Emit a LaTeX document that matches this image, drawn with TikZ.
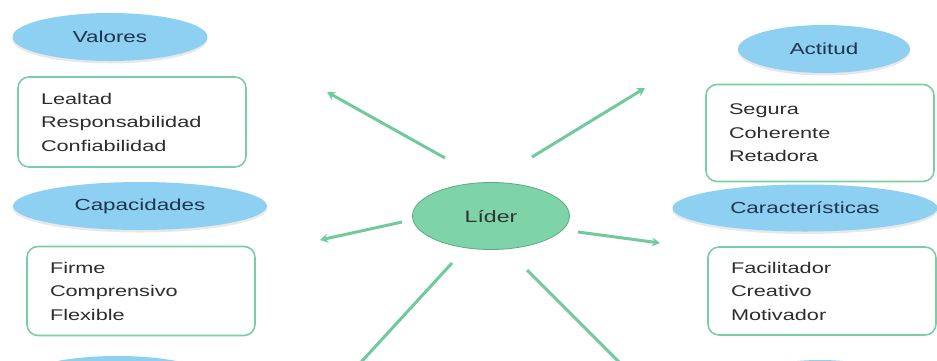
\documentclass[tikz,border=0pt]{standalone}
\usepackage{fontspec}
\setmainfont{Liberation Sans}[FakeStretch=1.4]
\usetikzlibrary{arrows.meta,shapes.geometric,shadows}
\definecolor{tagblue}   {RGB}{142,208,242}
\definecolor{boxgreen}  {RGB}{122,206,164}
\definecolor{liderfill} {RGB}{126,211,168}
\definecolor{liderline} {RGB}{ 92,170,128}
\definecolor{arrowgreen}{RGB}{112,202,158}
\definecolor{tagtext}   {RGB}{ 30, 52, 80}
\definecolor{listtext}  {RGB}{ 45, 45, 45}

\begin{document}
\begin{tikzpicture}[
  x=1pt, y=-1pt,
  every node/.style={inner sep=0pt},
  tag/.style={ellipse, fill=tagblue, text=tagtext, font=\fontsize{16}{19}\selectfont,
    drop shadow={shadow xshift=0pt, shadow yshift=-2.5pt, opacity=0.18}},
  listbox/.style={draw=boxgreen, line width=1.6pt, rounded corners=11pt, fill=white,
    align=left, text=listtext, font=\fontsize{15.5}{23.5}\selectfont,
    inner xsep=23pt, text width=182pt},
  centre/.style={ellipse, draw=liderline, line width=0.8pt, fill=liderfill,
    text=black!80, font=\fontsize{16.5}{19}\selectfont, minimum width=157pt, minimum height=67pt},
  arrow/.style={-{Stealth[length=8pt,width=9pt]}, line width=3pt, arrowgreen}
]
  \clip (0,0) rectangle (937,360);

  % Nodes
  \node (lider) [centre] at (491,216) {Líder};

  \node (valores) [tag, minimum width=195pt, minimum height=48pt] at (110,37) {Valores};
  \node (valores-list) [listbox, minimum height=90pt] at (132,122) {Lealtad\\Responsabilidad\\Confiabilidad};

  \node (actitud) [tag, minimum width=172pt, minimum height=48pt] at (824,49) {Actitud};
  \node (actitud-list) [listbox, minimum height=97pt] at (820,133) {Segura\\Coherente\\Retadora};

  \node (capacidades) [tag, minimum width=254pt, minimum height=48pt] at (140,206) {Capacidades};
  \node (capacidades-list) [listbox, minimum height=89pt] at (141,291) {Firme\\Comprensivo\\Flexible};

  \node (caract) [tag, minimum width=265pt, minimum height=47pt] at (805,208) {Características};
  \node (caract-list) [listbox, minimum height=88pt] at (822,291) {Facilitador\\Creativo\\Motivador};

  \node (bottom-left) [tag, minimum width=195pt, minimum height=48pt] at (117,380) {};
  \node (bottom-right) [tag, minimum width=160pt, minimum height=48pt] at (820,384) {};

  % Arrow ends
  \coordinate (ul-from) at (445,158);  \coordinate (ul-to) at (327,92);
  \coordinate (ur-from) at (532,157);  \coordinate (ur-to) at (645,88);
  \coordinate (l-from)  at (402,222);  \coordinate (l-to)  at (320,240);
  \coordinate (r-from)  at (578,232);  \coordinate (r-to)  at (660,243);
  \coordinate (dl-from) at (452,263);  \coordinate (dl-to) at (352,372);
  \coordinate (dr-from) at (527,270);  \coordinate (dr-to) at (629,372);

  % Paths
  \draw [arrow] (ul-from) -- (ul-to);
  \draw [arrow] (ur-from) -- (ur-to);
  \draw [arrow] (l-from) -- (l-to);
  \draw [arrow] (r-from) -- (r-to);
  \draw [arrow] (dl-from) -- (dl-to);
  \draw [arrow] (dr-from) -- (dr-to);
\end{tikzpicture}
\end{document}
